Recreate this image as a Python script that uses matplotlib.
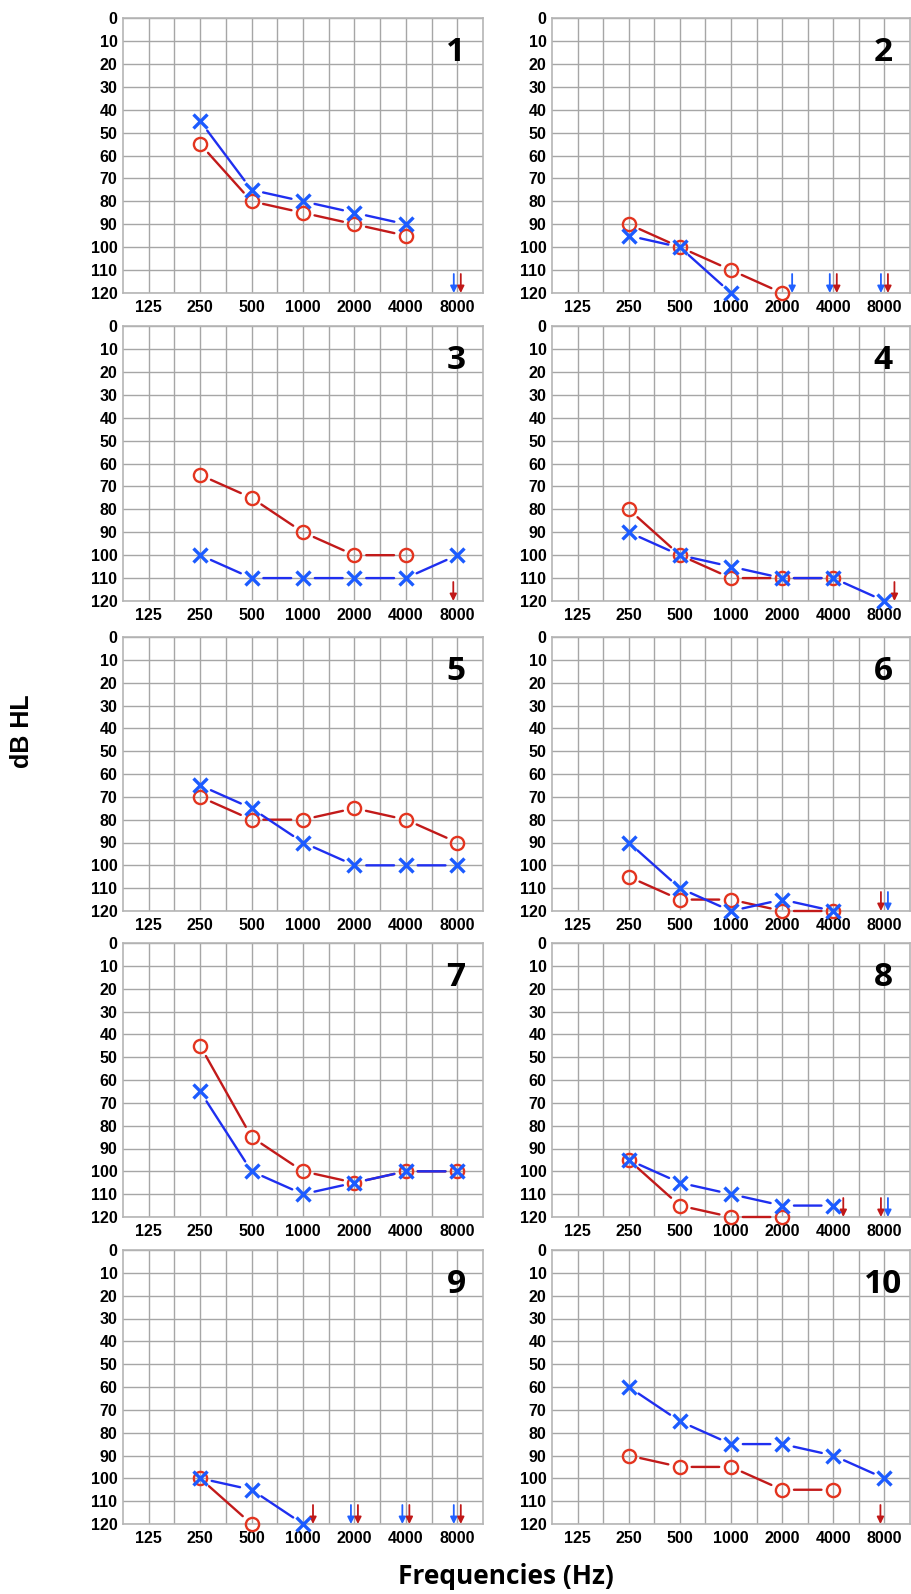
import matplotlib
matplotlib.use("Agg")
import matplotlib.pyplot as plt
from matplotlib.ticker import FixedLocator, NullFormatter
from matplotlib.transforms import offset_copy

'''
Ten audiograms, right ear (red O) and left ear (blue X).
None = no threshold plotted at that frequency.
'''

freqs = [125, 250, 500, 1000, 2000, 4000, 8000]
db_ticks = list(range(0, 130, 10))

right_1 = [None, 55, 80, 85, 90, 95, None]
left_1 = [None, 45, 75, 80, 85, 90, None]
right_2 = [None, 90, 100, 110, 120, None, None]
left_2 = [None, 95, 100, 120, None, None, None]
right_3 = [None, 65, 75, 90, 100, 100, None]
left_3 = [None, 100, 110, 110, 110, 110, 100]
right_4 = [None, 80, 100, 110, 110, 110, None]
left_4 = [None, 90, 100, 105, 110, 110, 120]
right_5 = [None, 70, 80, 80, 75, 80, 90]
left_5 = [None, 65, 75, 90, 100, 100, 100]
right_6 = [None, 105, 115, 115, 120, 120, None]
left_6 = [None, 90, 110, 120, 115, 120, None]
right_7 = [None, 45, 85, 100, 105, 100, 100]
left_7 = [None, 65, 100, 110, 105, 100, 100]
right_8 = [None, 95, 115, 120, 120, None, None]
left_8 = [None, 95, 105, 110, 115, 115, None]
right_9 = [None, 100, 120, None, None, None, None]
left_9 = [None, 100, 105, 120, None, None, None]
right_10 = [None, 90, 95, 95, 105, 105, None]
left_10 = [None, 60, 75, 85, 85, 90, 100]

# no-response arrows: (frequency, ear), listed left to right
arrows_1 = [(8000, "L"), (8000, "R")]
arrows_2 = [(2000, "L"), (4000, "L"), (4000, "R"), (8000, "L"), (8000, "R")]
arrows_3 = [(8000, "R")]
arrows_4 = [(8000, "R")]
arrows_5 = []
arrows_6 = [(8000, "R"), (8000, "L")]
arrows_7 = []
arrows_8 = [(4000, "R"), (8000, "R"), (8000, "L")]
arrows_9 = [(1000, "R"), (2000, "L"), (2000, "R"), (4000, "L"), (4000, "R"),
            (8000, "L"), (8000, "R")]
arrows_10 = [(8000, "R")]

panels = [
  (right_1, left_1, arrows_1), (right_2, left_2, arrows_2),
  (right_3, left_3, arrows_3), (right_4, left_4, arrows_4),
  (right_5, left_5, arrows_5), (right_6, left_6, arrows_6),
  (right_7, left_7, arrows_7), (right_8, left_8, arrows_8),
  (right_9, left_9, arrows_9), (right_10, left_10, arrows_10),
]

RED_LINE = "#c21a1a"
RED_MARK = "#e3341f"
BLUE_LINE = "#1f2ff0"
BLUE_MARK = "#1c5bff"
GRID = "#a6a6a6"

W, H = 911, 1594
fig = plt.figure(figsize=(W / 100, H / 100), dpi=100)

col_left = [123, 552]
col_width = [360, 358]
row_top = [18, 326, 637, 943, 1250]
row_bot = [293, 601, 911, 1217, 1524]

tick_font = dict(family="Liberation Sans", weight="bold", size=11.5)


def draw_series(ax, vals, line_c, mark_c, marker, ms, mew):
  pts = [(f, v) for f, v in zip(freqs, vals) if v is not None]
  for (f0, v0), (f1, v1) in zip(pts[:-1], pts[1:]):
    ax.annotate("", xy=(f1, v1), xytext=(f0, v0),
                arrowprops=dict(arrowstyle="-", color=line_c, lw=1.7,
                                shrinkA=8.5, shrinkB=8.5))
  xs = [p[0] for p in pts]
  ys = [p[1] for p in pts]
  ax.plot(xs, ys, linestyle="none", marker=marker, ms=ms, mew=mew,
          mec=mark_c, mfc="none", zorder=5, clip_on=False)


for i, (right, left, arrows) in enumerate(panels):
  r, c = divmod(i, 2)
  x0 = col_left[c] / W
  w = col_width[c] / W
  y0 = 1 - row_bot[r] / H
  h = (row_bot[r] - row_top[r]) / H
  ax = fig.add_axes([x0, y0, w, h])

  ax.set_xscale("log", base=2)
  ax.set_xlim(125 / 2 ** 0.5, 8000 * 2 ** 0.5)
  ax.set_ylim(120, 0)
  ax.xaxis.set_major_locator(FixedLocator(freqs))
  ax.xaxis.set_minor_locator(FixedLocator([f * 2 ** 0.5 for f in freqs[:-1]]))
  ax.xaxis.set_minor_formatter(NullFormatter())
  ax.set_xticklabels([str(f) for f in freqs], **tick_font)
  ax.set_yticks(db_ticks)
  ax.set_yticklabels([str(d) for d in db_ticks], **tick_font)
  ax.tick_params(which="both", length=0)
  ax.tick_params(axis="x", pad=5)
  ax.tick_params(axis="y", pad=4)
  ax.grid(True, which="both", color=GRID, lw=1.0)
  ax.set_axisbelow(True)
  for s in ax.spines.values():
    s.set_color("#b5b5b5")
    s.set_linewidth(1.2)

  draw_series(ax, right, RED_LINE, RED_MARK, "o", 9.5, 1.7)
  draw_series(ax, left, BLUE_LINE, BLUE_MARK, "x", 9.5, 2.4)

  # no-response arrows
  for f in sorted(set(a[0] for a in arrows)):
    group = [a for a in arrows if a[0] == f]
    k = freqs.index(f)
    if len(group) == 2:
      offsets = [-3.5, 3.5]
    else:
      near = [v for v in (right[k], left[k]) if v is not None and v >= 115]
      offsets = [10] if near else [-4]
    for (ff, ear), dx in zip(group, offsets):
      col = "#c01818" if ear == "R" else "#2060ff"
      tr = offset_copy(ax.transData, fig=fig, x=dx, y=0, units="dots")
      ax.annotate("", xy=(ff, 120), xycoords=tr, xytext=(0, 19),
                  textcoords="offset pixels", annotation_clip=False,
                  arrowprops=dict(arrowstyle="-|>,head_length=0.4,head_width=0.2",
                                  color=col, lw=1.3, shrinkA=0, shrinkB=0))

  ax.text(0.925, 0.875, str(i + 1), transform=ax.transAxes, ha="center",
          va="center", fontsize=24, fontweight="bold", family="Open Sans")

fig.text(22 / W, 1 - 731 / H, "dB HL", rotation=90, ha="center", va="center",
         fontsize=18, fontweight="bold", family="Liberation Sans")
fig.text(506 / W, 1 - 1577 / H, "Frequencies (Hz)", ha="center", va="center",
         fontsize=19, fontweight="bold", family="Open Sans")

fig.savefig("out.png", dpi=100)
